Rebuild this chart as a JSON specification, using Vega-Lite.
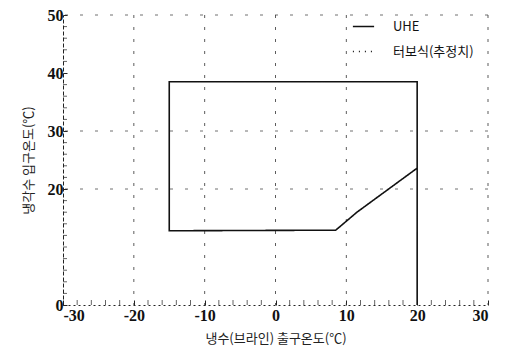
{
  "$schema": "https://vega.github.io/schema/vega-lite/v6.json",
  "width": 425,
  "height": 290,
  "autosize": {"type": "none"},
  "padding": {"left": 63, "top": 15, "right": 17, "bottom": 51},
  "background": "white",
  "config": {"view": {"stroke": null}},
  "datasets": {
    "uhe": [
      {"x": 20, "y": 0, "o": 1, "series": "UHE"},
      {"x": 20, "y": 38.5, "o": 2, "series": "UHE"},
      {"x": -15, "y": 38.5, "o": 3, "series": "UHE"},
      {"x": -15, "y": 12.8, "o": 4, "series": "UHE"},
      {"x": 8.5, "y": 12.9, "o": 5, "series": "UHE"},
      {"x": 11.5, "y": 16, "o": 6, "series": "UHE"},
      {"x": 20, "y": 23.6, "o": 7, "series": "UHE"}
    ],
    "vgrid": [{"x": -20}, {"x": -10}, {"x": 0}, {"x": 10}, {"x": 30}],
    "hgrid": [{"y": 30}, {"y": 20}, {"y": 50}],
    "xminor": [{"x":-28},{"x":-26},{"x":-24},{"x":-22},{"x":-18},{"x":-16},{"x":-14},{"x":-12},{"x":-8},{"x":-6},{"x":-4},{"x":-2},{"x":2},{"x":4},{"x":6},{"x":8},{"x":12},{"x":14},{"x":16},{"x":18},{"x":22},{"x":24},{"x":26},{"x":28}],
    "yminor": [{"y":2},{"y":4},{"y":6},{"y":8},{"y":10},{"y":12},{"y":14},{"y":16},{"y":18},{"y":22},{"y":24},{"y":26},{"y":28},{"y":32},{"y":34},{"y":36},{"y":38},{"y":42},{"y":44},{"y":46},{"y":48}]
  },
  "layer": [
    {
      "data": {"name": "vgrid"},
      "mark": {"type": "rule", "stroke": "#333", "strokeWidth": 1, "strokeDash": [3, 9], "opacity": 0.8},
      "encoding": {
        "x": {"field": "x", "type": "quantitative", "scale": {"domain": [-30, 30]}}
      }
    },
    {
      "data": {"name": "hgrid"},
      "mark": {"type": "rule", "stroke": "#333", "strokeWidth": 1, "strokeDash": [3, 12], "opacity": 0.7},
      "encoding": {
        "y": {"field": "y", "type": "quantitative", "scale": {"domain": [0, 50]}}
      }
    },
    {
      "data": {"name": "xminor"},
      "mark": {"type": "tick", "orient": "vertical", "size": 5, "thickness": 1, "color": "#222", "yOffset": -2.5},
      "encoding": {
        "x": {"field": "x", "type": "quantitative"},
        "y": {"datum": 0, "type": "quantitative"}
      }
    },
    {
      "data": {"name": "yminor"},
      "mark": {"type": "tick", "orient": "horizontal", "size": 4, "thickness": 1, "color": "#222", "xOffset": 2},
      "encoding": {
        "y": {"field": "y", "type": "quantitative"},
        "x": {"datum": -30, "type": "quantitative"}
      }
    },
    {
      "data": {"name": "uhe"},
      "mark": {"type": "line", "color": "#111", "strokeWidth": 1.6},
      "encoding": {
        "x": {
          "field": "x", "type": "quantitative",
          "scale": {"domain": [-30, 30], "nice": false},
          "axis": {
            "values": [-30, -20, -10, 0, 10, 20, 30],
            "labelExpr": "toString(datum.value)",
            "labelOverlap": false,
            "grid": false,
            "tickSize": -5,
            "tickColor": "#222",
            "domainColor": "#222",
            "domainDash": [2, 3],
            "labelFont": "Liberation Serif",
            "labelFontSize": 16,
            "labelFontWeight": "bold",
            "labelColor": "#111",
            "labelPadding": 7,
            "title": "냉수(브라인) 출구온도(℃)",
            "titleFont": "Noto Sans CJK KR",
            "titleFontSize": 13,
            "titleFontWeight": "normal",
            "titleColor": "#222",
            "titlePadding": 9
          }
        },
        "y": {
          "field": "y", "type": "quantitative",
          "scale": {"domain": [0, 50], "nice": false},
          "axis": {
            "values": [0, 20, 30, 40, 50],
            "labelExpr": "toString(datum.value)",
            "labelOverlap": false,
            "grid": false,
            "tickSize": -4,
            "tickColor": "#222",
            "domainColor": "#222",
            "domainDash": [4, 2],
            "labelFont": "Liberation Serif",
            "labelFontSize": 16,
            "labelFontWeight": "bold",
            "labelColor": "#111",
            "labelPadding": 4,
            "title": "냉각수 입구온도(℃)",
            "titleFont": "Noto Sans CJK KR",
            "titleFontSize": 13,
            "titleFontWeight": "normal",
            "titleColor": "#222",
            "titlePadding": 12
          }
        },
        "order": {"field": "o", "type": "quantitative"},
        "strokeDash": {
          "field": "series", "type": "nominal",
          "scale": {"domain": ["UHE", "터보식(추정치)"], "range": [[1, 0], [1, 5]]},
          "legend": {
            "title": null,
            "orient": "none",
            "legendX": 289,
            "legendY": 0,
            "symbolType": "stroke",
            "symbolSize": 450,
            "symbolStrokeWidth": 1.3,
            "symbolStrokeColor": "#111",
            "labelFont": "Noto Sans CJK KR",
            "labelFontSize": 13,
            "labelColor": "#111",
            "labelOffset": 18,
            "rowPadding": 6
          }
        }
      }
    }
  ]
}
